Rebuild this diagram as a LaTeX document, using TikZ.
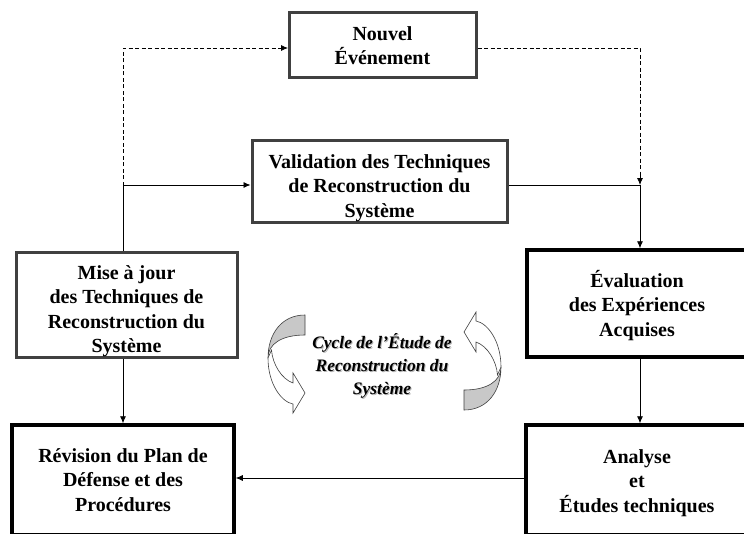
\documentclass[tikz,border=0pt]{standalone}
\usepackage{fontspec}
\setmainfont{Liberation Serif}
\usetikzlibrary{arrows.meta}
\definecolor{boxgray}{HTML}{404040}
\definecolor{arrowgray}{HTML}{C8C8C8}
\definecolor{shadowgray}{HTML}{B4B4B4}
\begin{document}
\begin{tikzpicture}[x=1pt,y=-1pt,
  txt/.style={align=center,font=\fontsize{20}{24.5}\selectfont\bfseries,inner sep=0pt},
  graybox/.style={draw=boxgray,line width=3pt,inner sep=0pt},
  blackbox/.style={draw=black,line width=3.5pt,inner sep=0pt},
  conn/.style={line width=0.8pt,-{Latex[length=7pt,width=6pt]}},
  plain/.style={line width=0.8pt},
  dashconn/.style={line width=0.8pt,dash pattern=on 4pt off 2.5pt},
  cyctxt/.style={align=center,font=\fontsize{17.5}{23}\selectfont\bfseries\itshape,inner sep=0pt},
  curvarrow/.pic={
    \filldraw[fill=arrowgray,draw=black!75,line width=0.6pt]
      (18.5,-49) .. controls (-5,-49) and (-18.5,-30) .. (-18.5,-6)
      .. controls (-18.5,-20) and (-5,-29) .. (18.5,-29) -- cycle;
    \filldraw[fill=white,draw=black!75,line width=0.6pt]
      (-18.5,-6) .. controls (-18.5,20) and (-5,38) .. (6.5,40)
      -- (6.5,49) -- (18.5,29) -- (6.5,9) -- (6.5,19)
      .. controls (-5,15) and (-14,0) .. (-15,-14) -- cycle;
  }]
\useasboundingbox (0,0) rectangle (744,533);
\clip (0,0) rectangle (744,533);
\fill[white] (0,0) rectangle (744,533);

% boxes
\node[graybox,minimum width=187pt,minimum height=65pt] (nouvel) at (382.5,44.5) {};
\node[graybox,minimum width=255pt,minimum height=82pt] (valid) at (379.5,181) {};
\node[graybox,minimum width=221pt,minimum height=105pt] (mise) at (126.5,304.5) {};
\node[blackbox,minimum width=220pt,minimum height=107pt] (eval) at (637,303.5) {};
\node[blackbox,minimum width=222pt,minimum height=110pt] (revis) at (123,480) {};
\node[blackbox,minimum width=222pt,minimum height=110pt] (analy) at (637,480) {};

% texts
\node[txt] (nouvelT) at ([yshift=-1pt]nouvel.center) {Nouvel\\Événement};
\node[txt] (validT) at ([yshift=-7pt]valid.center) {Validation des Techniques\\de Reconstruction du\\Système};
\node[txt] (miseT) at ([yshift=-6.5pt]mise.center) {Mise à jour\\des Techniques de\\Reconstruction du\\Système};
\node[txt] (evalT) at ([yshift=-2pt]eval.center) {Évaluation\\des Expériences\\Acquises};
\node[txt] (revisT) at ([yshift=0pt]revis.center) {Révision du Plan de\\Défense et des\\Procédures};
\node[txt] (analyT) at ([yshift=-3pt]analy.center) {Analyse\\et\\Études techniques};

\coordinate (dl) at (123,48);
\coordinate (dr) at (640,48);
\coordinate (jl) at (123,185);
\coordinate (jr) at (640,185);
\coordinate (al) at (278,48);
\coordinate (ar) at (640,176);
\coordinate (nw) at (288,48);

\draw[dashconn] (mise.north -| dl) -- (dl) -- (al);
\draw[conn] (al) -- (nw);
\draw[dashconn] (dr -| nouvel.east) -- (dr) -- (jr);
\draw[conn] (ar) -- (jr);
\draw[plain] (mise.north -| jl) -- (jl);
\draw[conn] (jl) -- (jl -| valid.west);
\draw[plain] (jr -| valid.east) -- (jr);
\draw[conn] (jr) -- (jr |- eval.north);
\draw[conn] (eval.south -| jr) -- (analy.north -| jr);
\draw[conn] (mise.south -| jl) -- (revis.north -| jl);
\draw[conn] (analy.west |- 0,478) -- (revis.east |- 0,478);

\node[cyctxt,text=shadowgray] (cycshadow) at (383,367) {Cycle de l’Étude de\\Reconstruction du\\Système};
\node[cyctxt] (cycle) at (382,366) {Cycle de l’Étude de\\Reconstruction du\\Système};

\pic at (286.5,364) {curvarrow};
\pic[rotate=180] at (482.5,361) {curvarrow};
\end{tikzpicture}
\end{document}
